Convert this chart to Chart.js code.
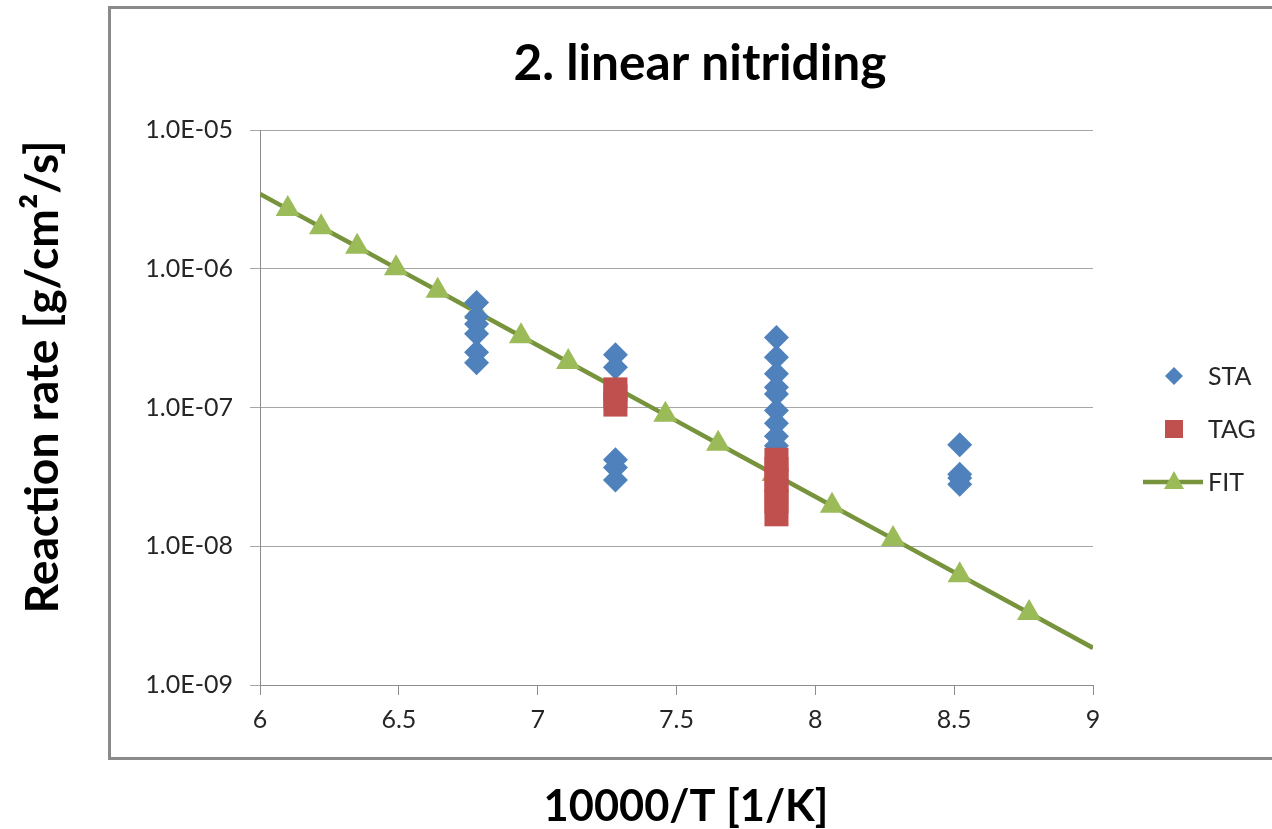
<!DOCTYPE html>
<html>
<head>
<meta charset="utf-8">
<script src="https://cdn.jsdelivr.net/npm/chart.js@4.4.1/dist/chart.umd.min.js"></script>
<style>
  html, body { margin: 0; padding: 0; background: #ffffff; }
  canvas { display: block; }
</style>
</head>
<body>
<canvas id="chart" width="1272" height="829"></canvas>
<script>
// ---- data ----
const titleText = '2. linear nitriding';
const xTitleText = '10000/T [1/K]';
const yTitleText = 'Reaction rate [g/cm\u00B2/s]';
const seriesNames = ['STA', 'TAG', 'FIT'];

// STA measurements (x = 10000/T, y = rate in g/cm2/s)
const staX = [6.78, 6.78, 6.78, 6.78, 6.78, 6.78,
              7.28, 7.28, 7.28, 7.28, 7.28,
              7.86, 7.86, 7.86, 7.86, 7.86, 7.86, 7.86, 7.86, 7.86,
              8.52, 8.52, 8.52, 8.52];
const staY = [5.7e-7, 4.5e-7, 4.0e-7, 3.4e-7, 2.5e-7, 2.1e-7,
              2.4e-7, 1.95e-7, 4.2e-8, 3.7e-8, 3.0e-8,
              3.2e-7, 2.3e-7, 1.75e-7, 1.4e-7, 1.25e-7, 9.5e-8, 7.7e-8, 6.2e-8, 5.3e-8,
              5.4e-8, 3.3e-8, 3.1e-8, 2.8e-8];

// TAG measurements
const tagX = [7.28, 7.28, 7.28,
              7.86, 7.86, 7.86, 7.86, 7.86, 7.86];
const tagY = [1.35e-7, 1.2e-7, 1.05e-7,
              4.2e-8, 3.6e-8, 3.0e-8, 2.5e-8, 2.1e-8, 1.7e-8];

// FIT line (ends at the axis limits, triangles at the evaluated temperatures)
const fitX = [6.00, 6.10, 6.22, 6.35, 6.49, 6.64, 6.78, 6.94, 7.11, 7.28, 7.46,
              7.65, 7.85, 8.06, 8.28, 8.52, 8.77, 9.00];
const fitY = [3.46e-6, 2.69e-6, 1.99e-6, 1.44e-6, 1.01e-6, 6.93e-7, 4.88e-7, 3.26e-7,
              2.13e-7, 1.39e-7, 8.85e-8, 5.48e-8, 3.32e-8, 1.96e-8, 1.13e-8, 6.18e-9,
              3.30e-9, 1.85e-9];

const xTickValues = [6, 6.5, 7, 7.5, 8, 8.5, 9];
const xTickLabels = ['6', '6.5', '7', '7.5', '8', '8.5', '9'];
const yTickValues = [1e-9, 1e-8, 1e-7, 1e-6, 1e-5];
const yTickLabels = ['1.0E-09', '1.0E-08', '1.0E-07', '1.0E-06', '1.0E-05'];

// ---- styling ----
const FONT = 'Lato, "Open Sans", sans-serif';
const colSTA = '#4F81BD';
const colTAG = '#C0504D';
const colFitLine = '#77933C';
const colFitMark = '#9BBB59';
const textCol = '#262626';
const axisCol = '#8c8c8c';

function pts(xs, ys) { return xs.map((x, i) => ({ x: x, y: ys[i] })); }

function fitSize(ctx, text, weight, width) {
  ctx.font = weight + ' 100px ' + FONT;
  return 100 * width / ctx.measureText(text).width;
}

function drawMarker(ctx, style, x, y, r, fill) {
  ctx.save();
  ctx.fillStyle = fill;
  ctx.beginPath();
  if (style === 'rectRot') {
    ctx.moveTo(x, y - r); ctx.lineTo(x + r, y); ctx.lineTo(x, y + r); ctx.lineTo(x - r, y);
  } else if (style === 'rect') {
    ctx.rect(x - r, y - r, 2 * r, 2 * r);
  } else if (style === 'triangle') {
    ctx.moveTo(x, y - r); ctx.lineTo(x + r, y + r * 0.8); ctx.lineTo(x - r, y + r * 0.8);
  }
  ctx.closePath();
  ctx.fill();
  ctx.restore();
}

// frame, titles and legend drawn around the plot
const decorations = {
  id: 'decorations',
  beforeDraw(chart) {
    const ctx = chart.ctx;
    ctx.save();
    ctx.fillStyle = '#ffffff';
    ctx.fillRect(0, 0, chart.width, chart.height);
    ctx.strokeStyle = '#8a8a8a';
    ctx.lineWidth = 3;
    ctx.strokeRect(109.5, 7.5, 1400, 751);
    ctx.restore();
  },
  afterDraw(chart) {
    const ctx = chart.ctx;
    ctx.save();
    ctx.fillStyle = '#000000';
    ctx.textBaseline = 'alphabetic';
    ctx.textAlign = 'center';

    // chart title
    let s = fitSize(ctx, titleText, 'bold', 373);
    ctx.font = 'bold ' + s + 'px ' + FONT;
    ctx.fillText(titleText, 700, 80);

    // x axis title
    s = fitSize(ctx, xTitleText, 'bold', 285);
    ctx.font = 'bold ' + s + 'px ' + FONT;
    ctx.fillText(xTitleText, 686, 821);

    // y axis title
    s = fitSize(ctx, yTitleText, 'bold', 473);
    ctx.font = 'bold ' + s + 'px ' + FONT;
    ctx.translate(58, 377);
    ctx.rotate(-Math.PI / 2);
    ctx.fillText(yTitleText, 0, 0);
    ctx.restore();

    // legend
    ctx.save();
    const lx = 1174, tx = 1208;
    const ly = [376, 429, 482];
    ctx.font = '25px ' + FONT;
    ctx.fillStyle = textCol;
    ctx.textAlign = 'left';
    ctx.textBaseline = 'middle';
    drawMarker(ctx, 'rectRot', lx, ly[0], 9, colSTA);
    drawMarker(ctx, 'rect', lx, ly[1], 9, colTAG);
    ctx.strokeStyle = colFitLine;
    ctx.lineWidth = 4.5;
    ctx.beginPath();
    ctx.moveTo(1143, ly[2]); ctx.lineTo(1203, ly[2]);
    ctx.stroke();
    drawMarker(ctx, 'triangle', lx, ly[2] - 1, 10, colFitMark);
    seriesNames.forEach((n, i) => ctx.fillText(n, tx, ly[i] + 1));
    ctx.restore();
  }
};

new Chart(document.getElementById('chart'), {
  type: 'scatter',
  data: {
    datasets: [
      {
        label: seriesNames[0],
        data: pts(staX, staY),
        pointStyle: 'rectRot',
        pointRadius: 12.5,
        pointBackgroundColor: colSTA,
        pointBorderColor: colSTA,
        pointBorderWidth: 0,
        showLine: false,
        order: 1
      },
      {
        label: seriesNames[1],
        data: pts(tagX, tagY),
        pointStyle: 'rect',
        pointRadius: 17,
        pointBackgroundColor: colTAG,
        pointBorderColor: colTAG,
        pointBorderWidth: 0,
        showLine: false,
        order: 0
      },
      {
        label: seriesNames[2],
        data: pts(fitX, fitY),
        showLine: true,
        borderColor: colFitLine,
        borderWidth: 4.5,
        pointStyle: 'triangle',
        pointRadius: c => (c.dataIndex === 0 || c.dataIndex === fitX.length - 1) ? 0 : 14,
        pointBackgroundColor: colFitMark,
        pointBorderColor: colFitMark,
        pointBorderWidth: 0,
        order: 2
      }
    ]
  },
  options: {
    responsive: false,
    animation: false,
    devicePixelRatio: 1,
    layout: { padding: { left: 0, top: 130, right: 179, bottom: 0 } },
    plugins: {
      legend: { display: false },
      title: { display: false },
      tooltip: { enabled: false }
    },
    scales: {
      x: {
        type: 'linear',
        min: 6,
        max: 9,
        afterBuildTicks: sc => { sc.ticks = xTickValues.map(v => ({ value: v })); },
        afterFit: sc => { sc.height = 144; },
        ticks: {
          callback: (v, i) => xTickLabels[i],
          font: { family: FONT, size: 25 },
          color: textCol,
          padding: 10,
          maxRotation: 0
        },
        grid: {
          drawOnChartArea: false,
          drawTicks: true,
          tickLength: 10,
          color: axisCol,
          lineWidth: 1
        },
        border: { display: true, color: axisCol, width: 1 }
      },
      y: {
        type: 'logarithmic',
        min: 1e-9,
        max: 1e-5,
        afterBuildTicks: sc => { sc.ticks = yTickValues.map(v => ({ value: v })); },
        afterFit: sc => { sc.width = 260; },
        ticks: {
          callback: (v, i) => yTickLabels[i],
          font: { family: FONT, size: 25 },
          color: textCol,
          padding: 17
        },
        grid: {
          drawOnChartArea: true,
          drawTicks: true,
          tickLength: 10,
          color: '#a6a6a6',
          lineWidth: 1
        },
        border: { display: true, color: axisCol, width: 1 }
      }
    }
  },
  plugins: [decorations]
});
</script>
</body>
</html>
